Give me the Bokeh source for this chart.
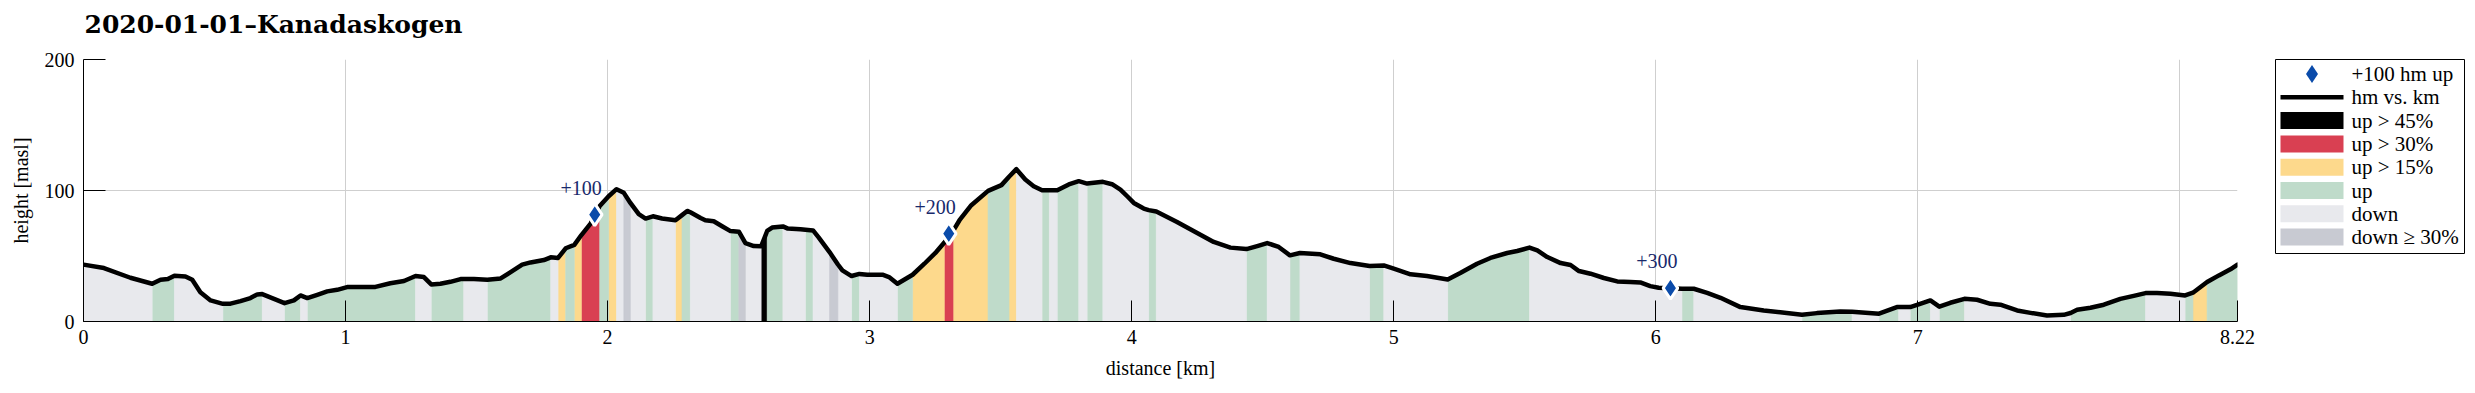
import numpy as np
from bokeh.plotting import figure
from bokeh.layouts import row, column
from bokeh.models import Range1d, FixedTicker
from bokeh.embed import file_html
from bokeh.resources import INLINE
from bokeh.core.properties import value

# ---------------- data ----------------
dist_km = [0.000, 0.078, 0.179, 0.262, 0.294, 0.322, 0.347, 0.389, 0.415, 0.446,
           0.485, 0.532, 0.561, 0.599, 0.637, 0.663, 0.682, 0.727, 0.767, 0.803,
           0.828, 0.854, 0.892, 0.930, 0.968, 1.006, 1.070, 1.114, 1.171, 1.223,
           1.267, 1.299, 1.327, 1.362, 1.400, 1.439, 1.451, 1.490, 1.541, 1.592,
           1.630, 1.674, 1.706, 1.757, 1.783, 1.811, 1.840, 1.873, 1.900, 1.935,
           1.970, 2.004, 2.034, 2.062, 2.087, 2.119, 2.145, 2.173, 2.208, 2.259,
           2.284, 2.304, 2.316, 2.355, 2.373, 2.405, 2.437, 2.469, 2.501, 2.526,
           2.558, 2.586, 2.609, 2.628, 2.669, 2.688, 2.736, 2.755, 2.784, 2.806,
           2.847, 2.879, 2.896, 2.931, 2.961, 2.991, 3.049, 3.074, 3.106, 3.164,
           3.209, 3.254, 3.285, 3.321, 3.343, 3.388, 3.452, 3.503, 3.532, 3.560,
           3.594, 3.626, 3.658, 3.686, 3.716, 3.760, 3.798, 3.830, 3.890, 3.925,
           3.957, 3.983, 4.008, 4.046, 4.065, 4.094, 4.173, 4.250, 4.313, 4.377,
           4.438, 4.479, 4.517, 4.561, 4.604, 4.642, 4.720, 4.771, 4.835, 4.908,
           4.962, 5.000, 5.064, 5.127, 5.206, 5.254, 5.318, 5.369, 5.433, 5.471,
           5.518, 5.548, 5.586, 5.637, 5.675, 5.707, 5.751, 5.802, 5.853, 5.903,
           5.941, 5.979, 6.011, 6.100, 6.145, 6.196, 6.247, 6.323, 6.412, 6.475,
           6.558, 6.615, 6.704, 6.749, 6.852, 6.920, 6.927, 6.971, 7.003, 7.048,
           7.082, 7.124, 7.178, 7.226, 7.277, 7.315, 7.379, 7.430, 7.493, 7.557,
           7.583, 7.608, 7.659, 7.710, 7.773, 7.824, 7.869, 7.913, 7.964, 8.020,
           8.050, 8.104, 8.149, 8.193, 8.220]

elev_m = [43.4, 40.8, 33.4, 28.8, 31.9, 32.4, 35.0, 34.4, 31.9, 22.4,
          16.1, 13.5, 13.6, 15.6, 17.9, 20.7, 20.9, 17.3, 14.0, 16.1,
          19.9, 17.9, 20.4, 23.0, 24.2, 26.3, 26.3, 26.4, 29.2, 30.9,
          34.7, 33.9, 28.3, 28.8, 30.3, 32.4, 32.4, 32.4, 31.9, 32.9,
          37.7, 43.4, 45.1, 46.9, 49.0, 48.5, 55.9, 58.5, 66.0, 74.7,
          88.2, 95.6, 101.0, 98.2, 90.5, 81.9, 78.6, 80.3, 78.6, 77.3,
          81.2, 84.4, 83.4, 79.0, 77.3, 76.5, 72.7, 69.0, 68.6, 59.9,
          57.6, 57.4, 69.1, 71.7, 72.6, 70.9, 70.4, 70.0, 69.5, 64.0,
          53.0, 43.5, 39.0, 34.7, 36.3, 35.7, 35.7, 33.9, 28.8, 35.7,
          44.1, 53.0, 60.3, 70.0, 77.3, 88.8, 99.7, 104.1, 110.5, 116.3,
          108.4, 103.3, 100.2, 100.2, 100.2, 104.6, 107.1, 105.3, 106.6, 104.8,
          100.7, 95.6, 90.5, 86.2, 85.0, 84.0, 76.0, 67.6, 60.7, 56.4,
          55.3, 57.6, 59.9, 56.9, 50.5, 52.3, 51.3, 47.9, 44.6, 42.3,
          42.8, 40.3, 36.0, 34.7, 32.1, 37.0, 44.1, 48.5, 52.3, 53.8,
          56.4, 54.3, 49.2, 44.6, 43.1, 38.5, 36.5, 33.2, 30.6, 30.1,
          29.8, 27.0, 25.8, 25.0, 25.0, 21.9, 18.1, 11.0, 8.4, 7.1,
          5.1, 6.4, 7.7, 7.4, 6.0, 11.0, 11.0, 11.0, 13.0, 16.1,
          11.3, 14.3, 17.3, 16.6, 13.5, 12.8, 8.4, 6.6, 4.6, 5.1,
          6.5, 8.9, 10.5, 12.8, 17.3, 19.6, 21.7, 21.7, 21.2, 19.9,
          22.0, 30.1, 35.2, 39.8, 43.4]

# start of each coloured band (km) and its class
band_start_km = [0.000, 0.262, 0.347, 0.532, 0.682, 0.767, 0.828, 0.854, 1.267, 1.327,
                 1.451, 1.541, 1.783, 1.811, 1.840, 1.873, 1.900, 1.970, 2.004, 2.034,
                 2.062, 2.087, 2.145, 2.173, 2.259, 2.284, 2.316, 2.469, 2.501, 2.526,
                 2.586, 2.609, 2.669, 2.755, 2.784, 2.847, 2.879, 2.931, 2.961, 3.106,
                 3.164, 3.285, 3.321, 3.452, 3.532, 3.560, 3.658, 3.686, 3.716, 3.798,
                 3.830, 3.890, 4.065, 4.094, 4.438, 4.517, 4.604, 4.642, 4.908, 4.962,
                 5.206, 5.518, 6.100, 6.145, 6.558, 6.749, 6.852, 6.927, 6.971, 7.048,
                 7.082, 7.178, 7.583, 7.869, 8.020, 8.050, 8.104]
band_cat = ["down", "up", "down", "up", "down", "up", "down", "up", "down", "up",
            "down", "up", "down", "up15", "up", "up15", "up30", "up", "up15", "down",
            "down30", "down", "up", "down", "up15", "up", "down", "up", "down30", "down",
            "up45", "up", "down", "up", "down", "down30", "down", "up", "down", "up",
            "up15", "up30", "up15", "up", "up15", "down", "up", "down", "up", "down",
            "up", "down", "up", "down", "up", "down", "up", "down", "up", "down",
            "up", "down", "up", "down", "up", "down", "up", "down", "up", "down",
            "up", "down", "up", "down", "up", "up15", "up"]

marker_km = [1.951, 3.302, 6.056]
marker_m = [81.6, 67.1, 25.5]
marker_labels = ["+100", "+200", "+300"]

x_ticks = [0, 1, 2, 3, 4, 5, 6, 7, 8, 8.22]
x_tick_labels = ["0", "1", "2", "3", "4", "5", "6", "7", "", "8.22"]
y_ticks = [0, 100, 200]
y_tick_labels = ["0", "100", "200"]

cat_order = ["up45", "up30", "up15", "up", "down", "down30"]
cat_label = {"up45": "up > 45%", "up30": "up > 30%", "up15": "up > 15%",
             "up": "up", "down": "down", "down30": "down \u2265 30%"}
cat_color = {"up45": "#000000", "up30": "#D94052", "up15": "#FDD98C",
             "up": "#BFDBCA", "down": "#E8E9ED", "down30": "#C8CAD2"}
legend_marker_label = "+100 hm up"
legend_line_label = "hm vs. km"
title_text = "2020-01-01\u2013Kanadaskogen"

SERIF = "Liberation Serif"
DIAMOND = "#0A4BAA"
TITLE_H = 50

# ---------------- title strip ----------------
tf = figure(frame_width=2475, frame_height=TITLE_H,
            x_range=Range1d(0, 2475), y_range=Range1d(TITLE_H, 0),
            output_backend="svg", toolbar_location=None,
            x_axis_location=None, y_axis_location=None, min_border=0)
tf.grid.visible = False
tf.outline_line_color = None
tf.background_fill_color = "white"
tf.border_fill_color = "white"
tf.text(x=[84], y=[24], text=[title_text], text_align="left",
        text_baseline="middle", text_font=value("DejaVu Serif"),
        text_font_style="bold", text_font_size="25px", text_color="black")

# ---------------- main figure ----------------
p = figure(frame_width=2154, frame_height=262,
           x_range=Range1d(0, 8.22), y_range=Range1d(0, 200),
           output_backend="svg", toolbar_location=None,
           min_border_left=83, min_border_top=59 - TITLE_H, min_border_right=30,
           min_border_bottom=72)
p.outline_line_color = None
p.background_fill_color = "white"
p.border_fill_color = "white"

# grid
p.xgrid.ticker = FixedTicker(ticks=x_ticks)
p.ygrid.ticker = FixedTicker(ticks=y_ticks)
for g in (p.xgrid, p.ygrid):
    g.grid_line_color = "#cfcfcf"
    g.grid_line_width = 1

# axes
p.xaxis.ticker = FixedTicker(ticks=x_ticks)
p.xaxis.major_label_overrides = {t: l for t, l in zip(x_ticks, x_tick_labels)}
p.yaxis.ticker = FixedTicker(ticks=y_ticks)
p.yaxis.major_label_overrides = {t: l for t, l in zip(y_ticks, y_tick_labels)}
p.xaxis.axis_label = "distance [km]"
p.yaxis.axis_label = "height [masl]"
for ax, tin in ((p.xaxis, 21), (p.yaxis, 22)):
    ax.axis_line_color = "black"
    ax.axis_line_width = 1
    ax.major_tick_in = tin
    ax.major_tick_out = 0
    ax.major_tick_line_color = "black"
    ax.minor_tick_line_color = None
    ax.major_label_text_font = SERIF
    ax.major_label_text_font_size = "20px"
    ax.major_label_text_color = "black"
    ax.axis_label_text_font = SERIF
    ax.axis_label_text_font_size = "20px"
    ax.axis_label_text_font_style = "normal"
    ax.axis_label_text_color = "black"
p.xaxis.major_label_standoff = 8
p.xaxis.axis_label_standoff = 10
p.yaxis.major_label_standoff = 9
p.yaxis.axis_label_standoff = 10

# coloured fill under the profile, grouped in runs of equal class
d = np.array(dist_km)
e = np.array(elev_m)
mids = (d[:-1] + d[1:]) / 2
seg_idx = np.searchsorted(np.array(band_start_km), mids, side="right") - 1
seg_cat = [band_cat[i] for i in seg_idx]

polys = {c: ([], []) for c in cat_order}
i = 0
n = len(seg_cat)
while i < n:
    j = i
    while j + 1 < n and seg_cat[j + 1] == seg_cat[i]:
        j += 1
    xs = [d[i]] + list(d[i:j + 2]) + [d[j + 1]]
    ys = [0.0] + list(e[i:j + 2]) + [0.0]
    polys[seg_cat[i]][0].append(xs)
    polys[seg_cat[i]][1].append(ys)
    i = j + 1

for c in cat_order:
    xs, ys = polys[c]
    p.patches(xs=xs, ys=ys, fill_color=cat_color[c],
              line_color=cat_color[c], line_width=0.6)

p.line(dist_km, elev_m, line_color="black", line_width=4.5,
       line_join="round", line_cap="round")

p.scatter(marker_km, marker_m, marker="diamond", size=22,
          fill_color=DIAMOND, line_color="white", line_width=3)

p.text(x=marker_km, y=marker_m, text=marker_labels, x_offset=7, y_offset=-27,
       text_align="right", text_baseline="middle",
       text_font=value(SERIF), text_font_size="20px", text_color="#18296B")

# ---------------- legend panel (pixel coordinates inside the box) ----------------
LW, LH = 189, 194
lg = figure(frame_width=LW, frame_height=LH,
            x_range=Range1d(0, LW), y_range=Range1d(LH, 0),
            output_backend="svg", toolbar_location=None,
            x_axis_location=None, y_axis_location=None,
            min_border_left=8, min_border_right=11,
            min_border_top=58 - TITLE_H, min_border_bottom=141)
lg.grid.visible = False
lg.outline_line_color = "black"
lg.outline_line_width = 1
lg.background_fill_color = "white"
lg.border_fill_color = "white"

row_y = [14.5 + 23.3 * k for k in range(2 + len(cat_order))]
sw_l, sw_r, sw_h, txt_x = 5, 68, 17, 76

lg.scatter([(sw_l + sw_r) / 2], [row_y[0]], marker="diamond", size=18,
           fill_color=DIAMOND, line_color=None)
lg.line([sw_l, sw_r], [row_y[1], row_y[1]], line_color="black", line_width=4.5)
ys_sw = row_y[2:]
lg.quad(left=[sw_l] * len(cat_order), right=[sw_r] * len(cat_order),
        top=[y - sw_h / 2 for y in ys_sw], bottom=[y + sw_h / 2 for y in ys_sw],
        fill_color=[cat_color[c] for c in cat_order], line_color=None)
lg.text(x=[txt_x] * len(row_y), y=row_y,
        text=[legend_marker_label, legend_line_label] + [cat_label[c] for c in cat_order],
        text_align="left", text_baseline="middle",
        text_font=value(SERIF), text_font_size="21px", text_color="black")

layout = column(tf, row(p, lg, spacing=0), spacing=0)
open("out.html", "w").write(file_html(layout, INLINE))
